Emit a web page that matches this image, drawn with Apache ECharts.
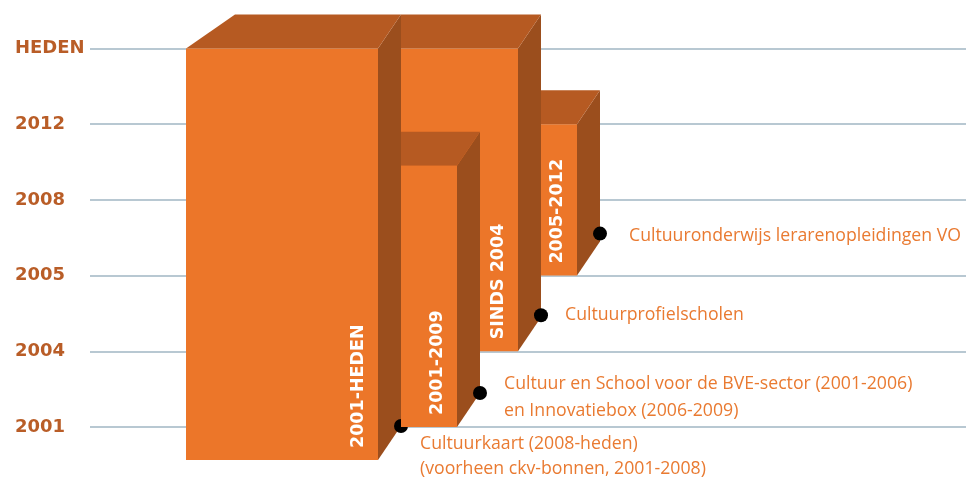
<!DOCTYPE html>
<html>
<head>
<meta charset="utf-8">
<script src="https://cdn.jsdelivr.net/npm/echarts@6.0.0/dist/echarts.min.js"></script>
<style>
  html, body { margin: 0; padding: 0; background: #fff; }
  #chart { width: 966px; height: 479px; }
</style>
</head>
<body>
<div id="chart"></div>
<script>
// axis positions, bottom to top
const yearLabels = ['2001', '2004', '2005', '2008', '2012', 'HEDEN'];

// bars: label, start and end read as positions on the year axis
const barNames = ['2001-HEDEN', 'SINDS 2004', '2001-2009', '2005-2012'];
const barStart = [0, 1, 0, 2];
const barEnd = [5, 5, 3.45, 4];

// notes next to the black dots
const barNotes = [
    ['Cultuurkaart (2008-heden)', '(voorheen ckv-bonnen, 2001-2008)'],
    ['Cultuurprofielscholen'],
    ['Cultuur en School voor de BVE-sector (2001-2006)', 'en Innovatiebox (2006-2009)'],
    ['Cultuuronderwijs lerarenopleidingen VO']
];

// layout only (pixels): left offset from grid, front width, extra drop of the front,
// slant of left top edge, dot lift, note offset from dot
const barLayout = [
    { left: 96, width: 192, drop: 33, slant: 49, lift: 0, noteDx: 19, noteDy: 18, lineH: 25 },
    { left: 311, width: 117, drop: 0, slant: 0, lift: 2, noteDx: 24, noteDy: 0, lineH: 26 },
    { left: 311, width: 56, drop: 0, slant: 0, lift: 0, noteDx: 24, noteDy: -9, lineH: 27 },
    { left: 451, width: 36, drop: 0, slant: 0, lift: 8, noteDx: 29, noteDy: 2, lineH: 26 }
];

const FRONT = '#EC7629';
const TOP = '#B65A22';
const SIDE = '#9B4E1D';
const NOTE = '#E97A31';
const DEPTH_X = 23;
const DEPTH_Y = 34;
const GRID_LEFT = 90;

const chart = echarts.init(document.getElementById('chart'), null, { renderer: 'canvas' });

function renderBar(params, api) {
    const i = params.dataIndex;
    const lay = barLayout[i];
    const pTop = api.coord([0, api.value(1)]);
    const pBot = api.coord([0, api.value(0)]);
    const x0 = GRID_LEFT + lay.left;
    const x1 = x0 + lay.width;
    const yTop = pTop[1];
    const yBot = pBot[1] + lay.drop;

    const children = [
        {
            type: 'polygon',
            shape: { points: [[x1, yTop], [x1 + DEPTH_X, yTop - DEPTH_Y], [x1 + DEPTH_X, yBot - DEPTH_Y], [x1, yBot]] },
            style: { fill: SIDE }
        },
        {
            type: 'polygon',
            shape: { points: [[x0, yTop], [x0 + lay.slant, yTop - DEPTH_Y], [x1 + DEPTH_X, yTop - DEPTH_Y], [x1, yTop]] },
            style: { fill: TOP }
        },
        {
            type: 'rect',
            shape: { x: x0, y: yTop, width: lay.width, height: yBot - yTop },
            style: { fill: FRONT }
        },
        {
            type: 'text',
            x: x1 - 19.5,
            y: yBot - 12,
            rotation: Math.PI / 2,
            style: {
                text: barNames[i],
                x: 0, y: 0,
                align: 'left',
                verticalAlign: 'middle',
                fill: '#fff',
                font: 'bold 17.5px "DejaVu Sans", sans-serif'
            }
        }
    ];

    const dx = x1 + DEPTH_X;
    const dy = yBot - DEPTH_Y - lay.lift;
    children.push({
        type: 'circle',
        shape: { cx: dx, cy: dy, r: 7 },
        style: { fill: '#000' }
    });
    barNotes[i].forEach((line, k) => {
        children.push({
            type: 'text',
            x: dx + lay.noteDx,
            y: dy + lay.noteDy + k * lay.lineH,
            style: {
                text: line,
                align: 'left',
                verticalAlign: 'middle',
                fill: NOTE,
                font: '17.7px "Open Sans", sans-serif'
            }
        });
    });

    return { type: 'group', children: children };
}

const option = {
    animation: false,
    grid: { left: GRID_LEFT, right: 0, top: 48.5, bottom: 52 },
    xAxis: { type: 'value', min: 0, max: 100, show: false },
    yAxis: {
        type: 'value',
        min: 0,
        max: 5,
        interval: 1,
        axisLine: { show: false },
        axisTick: { show: false },
        splitLine: { lineStyle: { color: '#A0B6C3', width: 1.5 } },
        axisLabel: {
            margin: 75,
            align: 'left',
            color: '#B95D27',
            fontFamily: 'DejaVu Sans',
            fontWeight: 'bold',
            fontSize: 18,
            formatter: (v) => yearLabels[v]
        }
    },
    series: [{
        type: 'custom',
        renderItem: renderBar,
        clip: false,
        data: barStart.map((s, i) => [s, barEnd[i]])
    }]
};

chart.setOption(option);
</script>
</body>
</html>
